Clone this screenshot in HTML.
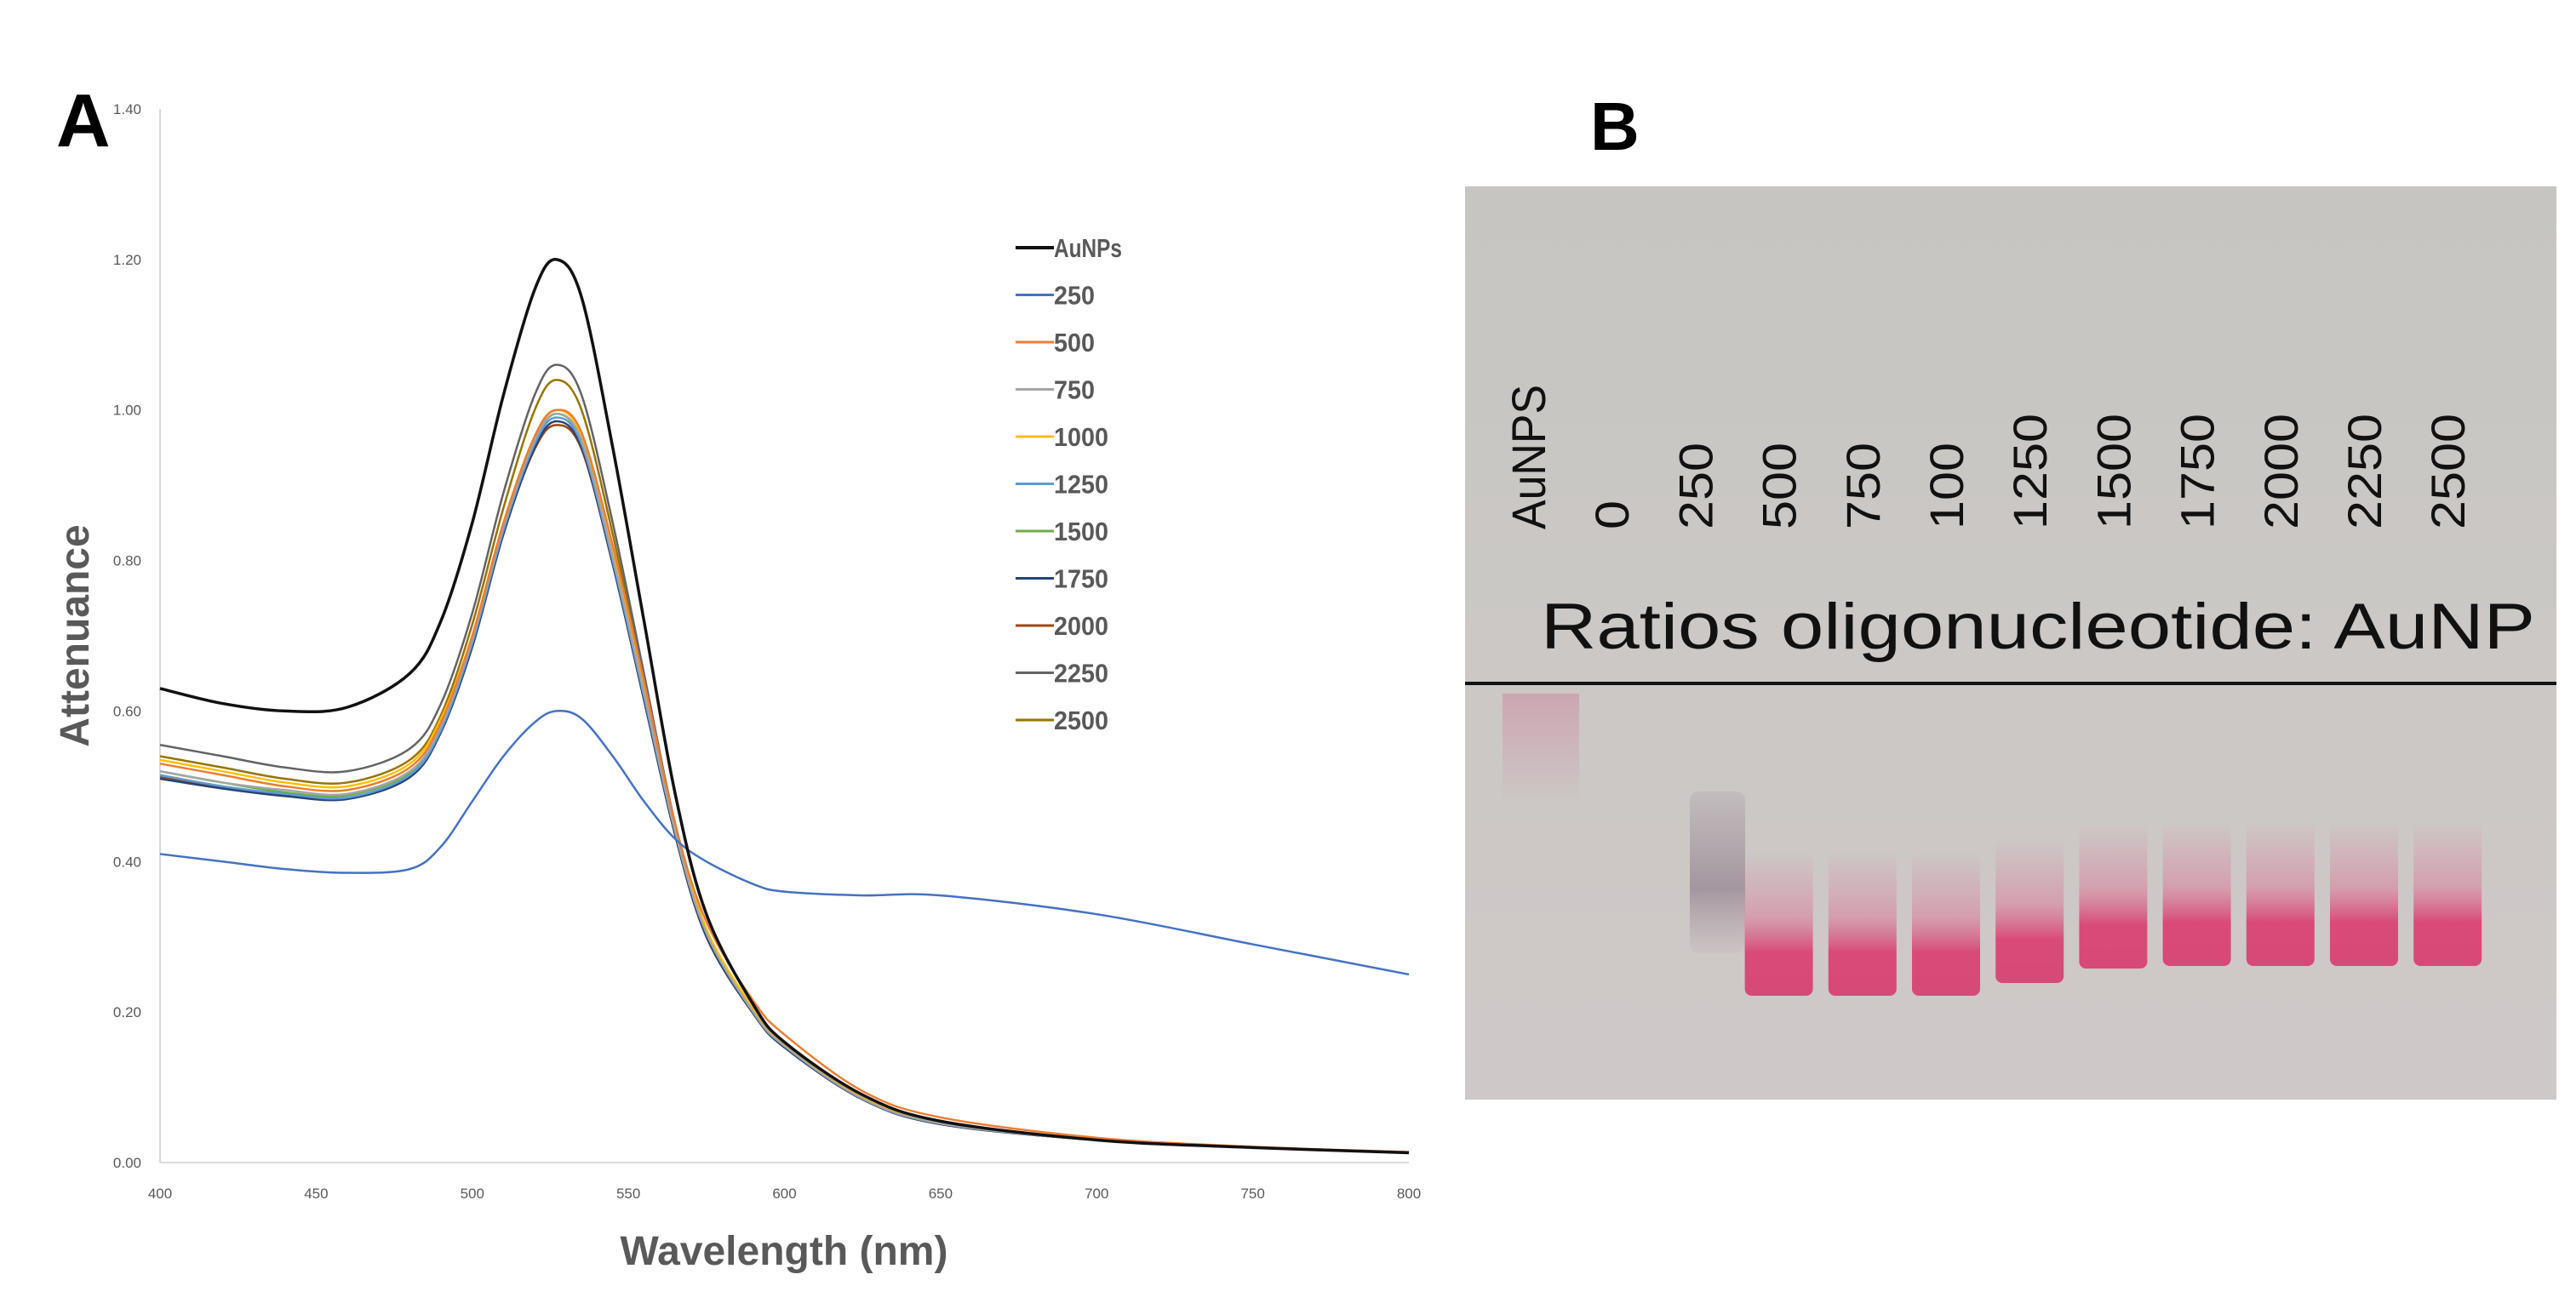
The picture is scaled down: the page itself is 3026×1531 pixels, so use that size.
<!DOCTYPE html>
<html><head><meta charset="utf-8"><style>
body{margin:0;background:#fff;width:3026px;height:1526px;overflow:hidden;font-family:"Liberation Sans",sans-serif}
</style></head><body>
<svg width="3026" height="1526" xmlns="http://www.w3.org/2000/svg">
<defs>
<linearGradient id="gelbg" x1="0" y1="0" x2="0" y2="1"><stop offset="0" stop-color="#c6c5c1"/><stop offset="0.5" stop-color="#cbc8c5"/><stop offset="1" stop-color="#cfc8c8"/></linearGradient>
<linearGradient id="band" x1="0" y1="0" x2="0" y2="1"><stop offset="0" stop-color="#d78ca4" stop-opacity="0"/><stop offset="0.45" stop-color="#d9849e" stop-opacity="0.6"/><stop offset="0.7" stop-color="#d94a78"/><stop offset="1" stop-color="#d64a78"/></linearGradient>
<linearGradient id="smear" x1="0" y1="0" x2="0" y2="1"><stop offset="0" stop-color="#9a8e98" stop-opacity="0.2"/><stop offset="0.6" stop-color="#9a8a96" stop-opacity="0.8"/><stop offset="1" stop-color="#b09aa4" stop-opacity="0.1"/></linearGradient>
<linearGradient id="pinksmear" x1="0" y1="0" x2="0" y2="1"><stop offset="0" stop-color="#cc90a4" stop-opacity="0.6"/><stop offset="1" stop-color="#cc90a4" stop-opacity="0"/></linearGradient>
</defs>
<text x="66" y="172" font-size="88" font-weight="bold">A</text>
<text x="1868" y="176" font-size="80" font-weight="bold">B</text>
<g id="chart"></g>
<g id="gel"></g>
</svg>
<script>
const wl=[400,420,440,460,480,490,500,510,520,527,535,545,555,565,575,590,600,625,650,700,750,800];
const sAu=[0.63,0.61,0.60,0.605,0.65,0.72,0.85,1.02,1.16,1.20,1.15,0.95,0.72,0.49,0.33,0.21,0.16,0.09,0.055,0.03,0.02,0.013];
const s250=[0.41,0.40,0.39,0.385,0.39,0.42,0.48,0.54,0.585,0.60,0.59,0.54,0.48,0.43,0.40,0.37,0.36,0.355,0.355,0.33,0.29,0.25];
const s500=[0.53,0.515,0.50,0.495,0.525,0.585,0.70,0.85,0.965,1.00,0.97,0.82,0.64,0.45,0.32,0.215,0.17,0.095,0.06,0.033,0.021,0.014];
const s750=[0.52,0.505,0.495,0.49,0.52,0.58,0.695,0.845,0.96,0.995,0.96,0.805,0.625,0.44,0.305,0.20,0.155,0.085,0.052,0.03,0.02,0.013];
const s1000=[0.535,0.52,0.505,0.50,0.53,0.59,0.70,0.85,0.965,1.0,0.965,0.81,0.63,0.445,0.31,0.205,0.158,0.087,0.053,0.03,0.02,0.013];
const s1250=[0.515,0.50,0.49,0.485,0.515,0.575,0.69,0.84,0.955,0.99,0.955,0.80,0.62,0.44,0.305,0.20,0.155,0.085,0.052,0.03,0.02,0.013];
const s1500=[0.52,0.505,0.492,0.488,0.518,0.578,0.692,0.842,0.958,0.995,0.958,0.802,0.622,0.44,0.305,0.20,0.155,0.085,0.052,0.03,0.02,0.014];
const s1750=[0.51,0.497,0.487,0.483,0.512,0.572,0.685,0.835,0.95,0.985,0.95,0.795,0.615,0.435,0.30,0.198,0.153,0.084,0.051,0.03,0.02,0.013];
const s2000=[0.512,0.498,0.488,0.484,0.513,0.573,0.686,0.836,0.948,0.98,0.948,0.795,0.615,0.435,0.30,0.198,0.153,0.084,0.051,0.03,0.02,0.013];
const s2250=[0.555,0.54,0.525,0.52,0.55,0.61,0.73,0.89,1.02,1.06,1.02,0.85,0.65,0.45,0.31,0.20,0.155,0.085,0.052,0.03,0.02,0.013];
const s2500=[0.54,0.525,0.51,0.505,0.535,0.595,0.715,0.87,1.00,1.04,1.00,0.835,0.64,0.445,0.305,0.20,0.155,0.085,0.052,0.03,0.02,0.013];
const seriesNames=["AuNPs","250","500","750","1000","1250","1500","1750","2000","2250","2500"];
const seriesData=[sAu,s250,s500,s750,s1000,s1250,s1500,s1750,s2000,s2250,s2500];
const seriesColors=["#111111","#4472c4","#ed7d31","#a5a5a5","#ffc000","#5b9bd5","#70ad47","#264478","#9e480e","#636363","#997300"];
const yTicks=["0.00","0.20","0.40","0.60","0.80","1.00","1.20","1.40"];
const xTicks=[400,450,500,550,600,650,700,750,800];
const laneLabels=["AuNPS","0","250","500","750","100","1250","1500","1750","2000","2250","2500"];
const bandBottom=[0,0,0,1170,1170,1170,1155,1138,1135,1135,1135,1135];

const NS="http://www.w3.org/2000/svg";
function mk(t,a,p){const e=document.createElementNS(NS,t);for(const k in a)e.setAttribute(k,a[k]);p.appendChild(e);return e;}
const X=v=>188+(v-400)/400*(1655-188);
const Y=v=>1366-v/1.4*(1366-128);
const chart=document.getElementById('chart');
let ax=mk('line',{x1:188,y1:128,x2:188,y2:1366,stroke:'#d9d9d9','stroke-width':2},chart);

let bx=mk('line',{x1:188,y1:1366,x2:1655,y2:1366,stroke:'#d9d9d9','stroke-width':2},chart);

yTicks.forEach(t=>{const e=mk('text',{x:166,y:Y(+t)+6,'font-size':17,fill:'#595959','text-anchor':'end'},chart);e.textContent=t;

});
xTicks.forEach(t=>{const e=mk('text',{x:X(t),y:1408,'font-size':17,fill:'#595959','text-anchor':'middle'},chart);e.textContent=t;

});
let xt=mk('text',{x:921,y:1486,'font-size':48,'font-weight':'bold',fill:'#595959','text-anchor':'middle'},chart);xt.textContent='Wavelength (nm)';

let yt=mk('text',{x:0,y:0,'font-size':48,'font-weight':'bold',fill:'#595959','text-anchor':'middle',transform:'translate(104,747) rotate(-90)'},chart);yt.textContent='Attenuance';

function path(vals){const p=wl.map((w,i)=>[X(w),Y(vals[i])]);let d='M'+p[0][0]+','+p[0][1];
for(let i=0;i<p.length-1;i++){const p0=p[i-1]||p[i],p1=p[i],p2=p[i+1],p3=p[i+2]||p2;
d+=` C${p1[0]+(p2[0]-p0[0])/6},${p1[1]+(p2[1]-p0[1])/6} ${p2[0]-(p3[0]-p1[0])/6},${p2[1]-(p3[1]-p1[1])/6} ${p2[0]},${p2[1]}`;}return d;}
for(let i=seriesData.length-1;i>=0;i--){const e=mk('path',{d:path(seriesData[i]),fill:'none',stroke:seriesColors[i],'stroke-width':i==0?3.5:2.5},chart);

}
seriesNames.forEach((n,i)=>{const y=291+i*55.5;const g=mk('g',{},chart);


mk('line',{x1:1193,y1:y,x2:1238,y2:y,stroke:seriesColors[i],'stroke-width':i==0?4:3},g);
const t=mk('text',{x:1238,y:y+11,'font-size':31,'font-weight':'bold',fill:'#595959',textLength:n.length*16,lengthAdjust:'spacingAndGlyphs'},g);t.textContent=n;});

const gel=document.getElementById('gel');
mk('rect',{x:1721,y:219,width:1282,height:1073,fill:'url(#gelbg)'},gel);
mk('rect',{x:1765,y:815,width:90,height:130,fill:'url(#pinksmear)'},gel);
mk('rect',{x:1985,y:930,width:65,height:190,fill:'url(#smear)',rx:10},gel);
const L=i=>1795+98.2*i;
laneLabels.forEach((n,i)=>{const t=mk('text',{x:0,y:0,'font-size':56,fill:'#111','text-anchor':'start',textLength:n.length*34,lengthAdjust:'spacingAndGlyphs',transform:`translate(${L(i)+20},622) rotate(-90)`},gel);t.textContent=n;


if(bandBottom[i]>0){const top=bandBottom[i]-170;
const b=mk('rect',{x:L(i)-40,y:top,width:80,height:170,fill:'url(#band)',rx:8},gel);

}});
let rt=mk('text',{x:1810,y:762,'font-size':76,fill:'#111',textLength:1168,lengthAdjust:'spacingAndGlyphs'},gel);rt.textContent='Ratios oligonucleotide: AuNP';

let ln=mk('line',{x1:1721,y1:803,x2:3003,y2:803,stroke:'#111','stroke-width':4},gel);

</script>
</body></html>
